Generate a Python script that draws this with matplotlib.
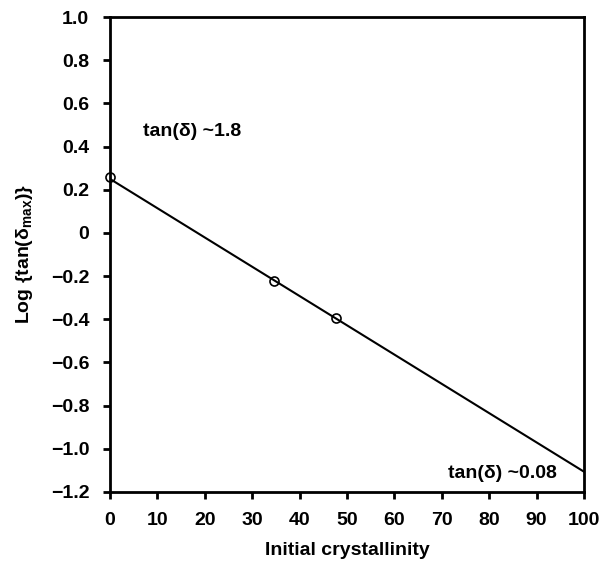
import matplotlib
matplotlib.use("Agg")
import matplotlib.pyplot as plt
from matplotlib.ticker import FixedLocator, FixedFormatter

plt.rcParams['font.family'] = ['Liberation Sans', 'DejaVu Sans']
plt.rcParams['mathtext.fontset'] = 'custom'
plt.rcParams['mathtext.rm'] = 'Liberation Sans:bold'
plt.rcParams['mathtext.it'] = 'Liberation Sans:bold'
plt.rcParams['mathtext.bf'] = 'Liberation Sans:bold'

# data
cryst = [0, 34.7, 47.6]
log_tan = [0.259, -0.223, -0.396]
fit_x = [0, 100]
fit_y = [0.25, -1.106]
yticks = [1.0, 0.8, 0.6, 0.4, 0.2, 0, -0.2, -0.4, -0.6, -0.8, -1.0, -1.2]
ytick_labels = ["1.0", "0.8", "0.6", "0.4", "0.2", "0", "\u22120.2", "\u22120.4",
                "\u22120.6", "\u22120.8", "\u22121.0", "\u22121.2"]
xticks = [0, 10, 20, 30, 40, 50, 60, 70, 80, 90, 100]

FS = 14
W = 'bold'

fig = plt.figure(figsize=(6.04, 5.63), dpi=100)
ax = fig.add_axes([110/604, 1 - 492/563, 474/604, 475/563])

ax.plot(fit_x, fit_y, color='black', lw=1.5, zorder=2)
ax.plot(cryst, log_tan, linestyle='none', marker='o', markersize=6.5,
        markerfacecolor='none', markeredgecolor='black', markeredgewidth=1.2,
        clip_on=False, zorder=3)

ax.set_xlim(0, 100)
ax.set_ylim(-1.2, 1.0)
ax.yaxis.set_major_locator(FixedLocator(yticks))
ax.yaxis.set_major_formatter(FixedFormatter(ytick_labels))
ax.set_xticks(xticks)
ax.set_xticklabels([str(v) for v in xticks])
for lab in ax.get_xticklabels() + ax.get_yticklabels():
    lab.set_fontweight(W)

for s in ax.spines.values():
    s.set_linewidth(2.0)
ax.tick_params(axis='both', direction='out', length=5, width=2.0,
               labelsize=FS, top=False, right=False)
ax.tick_params(axis='x', pad=9.5)
ax.tick_params(axis='y', pad=10)

ax.set_xlabel("Initial crystallinity", fontsize=FS, fontweight=W, labelpad=9)
ax.set_ylabel(r"Log {tan($\delta_{\mathrm{max}}$)}", fontsize=FS, fontweight=W, labelpad=11)

ax.text(7.0, 0.472, "tan(\u03b4) ~1.8", fontsize=FS, fontweight=W, ha='left', va='center')
ax.text(94.2, -1.112, "tan(\u03b4) ~0.08", fontsize=FS, fontweight=W, ha='right', va='center')

fig.savefig("out.png", dpi=100)
